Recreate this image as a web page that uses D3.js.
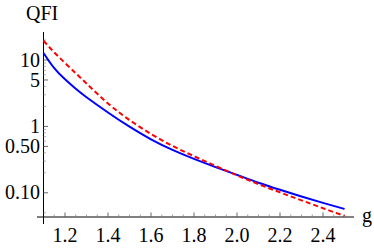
<!DOCTYPE html>
<html>
<head>
<meta charset="utf-8">
<script src="https://cdn.jsdelivr.net/npm/d3@7"></script>
<style>
  body { margin: 0; background: #fff; }
</style>
</head>
<body>
<div id="chart"></div>
<script>
// g values and the two QFI curves
const gVals   = [1.1, 1.15, 1.2, 1.25, 1.3, 1.4, 1.5, 1.6, 1.7, 1.8, 1.9, 2.0, 2.1, 2.2, 2.3, 2.4, 2.5];
const qfiBlue = [12.75, 7.52, 5.11, 3.68, 2.75, 1.62, 0.989, 0.638, 0.442, 0.324, 0.244, 0.186, 0.142, 0.111, 0.0881, 0.0706, 0.0571];
const qfiRed  = [19.5, 13.03, 9.02, 6.31, 4.43, 2.22, 1.248, 0.769, 0.508, 0.356, 0.255, 0.183, 0.135, 0.1014, 0.0769, 0.0586, 0.0448];

const xMajor = [1.2, 1.4, 1.6, 1.8, 2.0, 2.2, 2.4];
const yMajor = [0.1, 0.5, 1, 5, 10];
const yLabels = ["0.10", "0.50", "1", "5", "10"];
const yMinor = [0.05, 0.2, 0.3, 0.4, 0.6, 0.7, 0.8, 0.9, 2, 3, 4, 6, 7, 8, 9, 20];

const width = 374, height = 248;
const font = "'Liberation Serif', 'Times New Roman', Times, serif";

const svg = d3.select("#chart").append("svg")
    .attr("width", width)
    .attr("height", height)
    .attr("font-family", font)
    .attr("font-size", 20);

const x = d3.scaleLinear().domain([1.1, 2.5]).range([43.5, 344.5]);
const y = d3.scaleLog().domain([0.0432, 26.4]).range([217, 32]);

// minor x ticks every 0.05
const xMinor = d3.range(23, 51).map(i => i * 0.05).filter(v => !xMajor.some(m => Math.abs(m - v) < 1e-6));

const axis = svg.append("g");

// x axis line + ticks (pointing up, inside)
axis.append("line")
    .attr("x1", 37).attr("x2", 354)
    .attr("y1", 217).attr("y2", 217)
    .attr("stroke", "#000").attr("stroke-width", 1);

axis.selectAll(".xmaj")
  .data(xMajor)
  .join("line")
    .attr("x1", d => x(d)).attr("x2", d => x(d))
    .attr("y1", 217).attr("y2", 212.5)
    .attr("stroke", "#666").attr("stroke-width", 1);

axis.selectAll(".xmin")
  .data(xMinor)
  .join("line")
    .attr("x1", d => x(d)).attr("x2", d => x(d))
    .attr("y1", 217).attr("y2", 214.5)
    .attr("stroke", "#888").attr("stroke-width", 0.8);

axis.selectAll(".xlab")
  .data(xMajor)
  .join("text")
    .attr("x", d => x(d))
    .attr("y", 242)
    .attr("text-anchor", "middle")
    .attr("font-family", font)
    .text(d => d.toFixed(1));

// y axis line + ticks (pointing right, inside)
axis.append("line")
    .attr("x1", x(1.1)).attr("x2", x(1.1))
    .attr("y1", 32).attr("y2", 224)
    .attr("stroke", "#000").attr("stroke-width", 1);

axis.selectAll(".ymaj")
  .data(yMajor)
  .join("line")
    .attr("x1", x(1.1)).attr("x2", x(1.1) + 4.5)
    .attr("y1", d => y(d)).attr("y2", d => y(d))
    .attr("stroke", "#666").attr("stroke-width", 1);

axis.selectAll(".ymin")
  .data(yMinor)
  .join("line")
    .attr("x1", x(1.1)).attr("x2", x(1.1) + 2.5)
    .attr("y1", d => y(d)).attr("y2", d => y(d))
    .attr("stroke", "#999").attr("stroke-width", 0.8);

axis.selectAll(".ylab")
  .data(yMajor)
  .join("text")
    .attr("x", 40)
    .attr("y", d => y(d))
    .attr("dy", "0.33em")
    .attr("text-anchor", "end")
    .attr("font-family", font)
    .text((d, i) => yLabels[i]);

// axis labels
svg.append("text").attr("x", 26).attr("y", 20).attr("font-family", font).text("QFI");
svg.append("text").attr("x", 362).attr("y", 222).attr("font-family", font).text("g");

// curves
const line = vals => d3.line()
    .x((d, i) => x(gVals[i]))
    .y(d => y(d))
    .curve(d3.curveNatural)(vals);

svg.append("path")
    .attr("d", line(qfiBlue))
    .attr("fill", "none")
    .attr("stroke", "#0000ff")
    .attr("stroke-width", 2);

svg.append("path")
    .attr("d", line(qfiRed))
    .attr("fill", "none")
    .attr("stroke", "#ff0000")
    .attr("stroke-width", 2)
    .attr("stroke-dasharray", "5,3");
</script>
</body>
</html>
